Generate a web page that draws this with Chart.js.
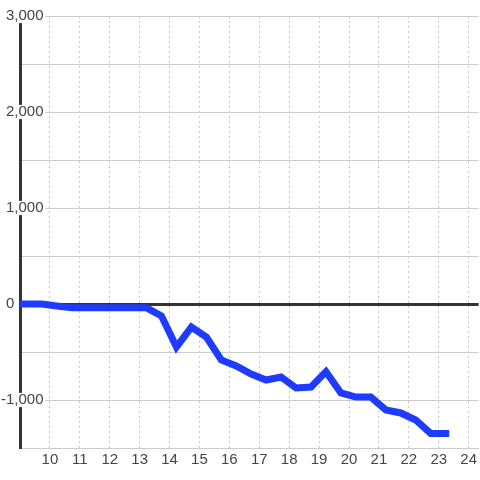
<!DOCTYPE html>
<html>
<head>
<meta charset="utf-8">
<script src="https://cdn.jsdelivr.net/npm/chart.js@4"></script>
<style>
html, body { margin: 0; padding: 0; background: #ffffff; }
#wrap { width: 480px; height: 480px; }
</style>
</head>
<body>
<div id="wrap"><canvas id="c" width="480" height="480"></canvas></div>
<script>
// Data
const times = [8.73, 9.23, 9.73, 10.23, 10.73, 11.23, 11.73, 12.23, 12.73, 13.23,
               13.73, 14.23, 14.73, 15.23, 15.73, 16.23, 16.73, 17.23, 17.73, 18.23,
               18.73, 19.23, 19.73, 20.23, 20.73, 21.23, 21.73, 22.23, 22.73, 23.35];
const values = [0, 0, 0, -20, -40, -40, -40, -40, -40, -40,
                -125, -448, -240, -344, -583, -646, -729, -792, -760, -875,
                -865, -705, -927, -969, -969, -1104, -1135, -1208, -1348, -1348];
const xTickValues = [10, 11, 12, 13, 14, 15, 16, 17, 18, 19, 20, 21, 22, 23, 24];
const yTickValues = [-1500, -1000, -500, 0, 500, 1000, 1500, 2000, 2500, 3000];
const yLabelValues = [-1000, 0, 1000, 2000, 3000];

const points = times.map((t, i) => ({ x: t, y: values[i] }));

new Chart(document.getElementById('c'), {
  type: 'line',
  data: {
    datasets: [{
      data: points,
      borderColor: '#1f3bff',
      borderWidth: 7,
      tension: 0,
      pointRadius: 0,
      pointHoverRadius: 0,
      fill: false
    }]
  },
  options: {
    responsive: false,
    animation: false,
    devicePixelRatio: 1,
    layout: { padding: { top: 16, right: 0, bottom: 0, left: 0 } },
    plugins: { legend: { display: false }, tooltip: { enabled: false } },
    scales: {
      x: {
        type: 'linear',
        min: 9,
        max: 24.333,
        afterBuildTicks: (scale) => { scale.ticks = xTickValues.map(v => ({ value: v })); },
        afterFit: (scale) => { scale.height = 32; },
        grid: { color: '#c8c8c8', lineWidth: 1, drawTicks: false },
        border: { display: true, color: '#cccccc', width: 1, dash: [2, 3] },
        ticks: {
          color: '#444444',
          font: { family: 'Liberation Sans, Arial, sans-serif', size: 15 },
          padding: 3,
          maxRotation: 0,
          autoSkip: false,
          callback: (v) => String(v)
        }
      },
      y: {
        type: 'linear',
        min: -1500,
        max: 3000,
        afterBuildTicks: (scale) => { scale.ticks = yTickValues.map(v => ({ value: v })); },
        afterFit: (scale) => { scale.width = 20; },
        grid: {
          drawTicks: false,
          color: (ctx) => (ctx.tick && ctx.tick.value === 0) ? '#333333' : '#cccccc',
          lineWidth: (ctx) => (ctx.tick && ctx.tick.value === 0) ? 3 : 1
        },
        border: { display: true, color: '#333333', width: 3 },
        ticks: {
          color: '#444444',
          font: { family: 'Liberation Sans, Arial, sans-serif', size: 15, lineHeight: 0.95 },
          mirror: true,
          crossAlign: 'far',
          padding: -19,
          autoSkip: false,
          showLabelBackdrop: (ctx) => ctx.tick && yLabelValues.includes(ctx.tick.value) && ctx.tick.value !== 0,
          backdropColor: '#ffffff',
          backdropPadding: { top: 0, bottom: 0, left: 3, right: 2 },
          callback: (v) => {
            if (!yLabelValues.includes(v)) return '';
            if (v === 0) return '0       ';
            return v.toLocaleString('en-US');
          }
        }
      }
    }
  }
});
</script>
</body>
</html>
